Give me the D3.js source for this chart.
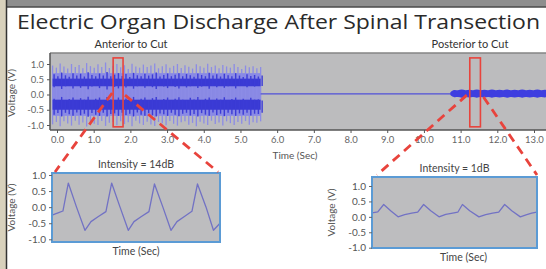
<!DOCTYPE html>
<html>
<head>
<meta charset="utf-8">
<script src="https://cdn.jsdelivr.net/npm/d3@7"></script>
<style>
body { margin: 0; background: #fff; }
svg { display: block; font-family: Lato, "Open Sans", sans-serif; }
</style>
</head>
<body>
<svg width="546" height="269"></svg>
<script>
// ---- data ----
var xTicks = [0, 1, 2, 3, 4, 5, 6, 7, 8, 9, 10, 11, 12, 13];
var yTicks = [-1, -0.5, 0, 0.5, 1];

// anterior burst: one peak per spike (V)
var anteriorSpan = [-0.12, 5.55];
var spikeHi = [0.95, 0.88, 1.02, 0.92, 0.85, 1.0, 0.9, 0.97, 0.86, 1.03, 0.93, 0.88, 0.99, 0.9,
               1.05, 0.87, 0.94, 1.0, 0.89, 0.96, 0.84, 1.01, 0.92, 0.88, 0.98, 0.9, 0.95, 1.02,
               0.86, 0.93, 0.99, 0.88, 0.94, 1.0, 0.87, 0.96, 0.91, 0.85, 0.99, 0.93, 0.88, 1.01,
               0.9, 0.95, 0.86, 0.97, 0.92, 0.88, 1.0, 0.9, 0.84, 0.95, 0.89, 0.93, 0.86, 0.9];
var spikeLo = [-0.98, -0.9, -1.04, -0.88, -0.95, -1.02, -0.86, -0.99, -0.92, -1.05, -0.89, -0.96,
               -1.0, -0.87, -1.03, -0.93, -0.9, -1.01, -0.88, -0.97, -0.91, -1.04, -0.86, -0.95,
               -1.0, -0.89, -0.98, -1.03, -0.9, -0.94, -1.01, -0.87, -0.96, -1.02, -0.91, -0.88,
               -0.99, -0.93, -1.04, -0.89, -0.95, -1.0, -0.86, -0.97, -0.92, -1.02, -0.88, -0.94,
               -1.0, -0.9, -0.96, -0.87, -0.99, -0.91, -0.93, -0.88];
var toothHi = [0.66, 0.6, 0.72, 0.63, 0.58, 0.7, 0.62, 0.68, 0.59, 0.73, 0.64, 0.6, 0.69, 0.62,
               0.74, 0.6, 0.65, 0.7, 0.61, 0.67, 0.57, 0.71, 0.63, 0.6, 0.68, 0.62, 0.66, 0.72,
               0.59, 0.64, 0.69, 0.6, 0.65, 0.7, 0.6, 0.67, 0.63, 0.58, 0.69, 0.64, 0.6, 0.71,
               0.62, 0.66, 0.59, 0.68, 0.63, 0.6, 0.7, 0.62, 0.57, 0.66, 0.61, 0.64, 0.59, 0.62];
var toothLo = [-0.66, -0.61, -0.72, -0.6, -0.65, -0.7, -0.59, -0.68, -0.63, -0.73, -0.61, -0.66,
               -0.7, -0.6, -0.72, -0.64, -0.62, -0.7, -0.6, -0.67, -0.63, -0.72, -0.59, -0.66,
               -0.7, -0.61, -0.68, -0.72, -0.62, -0.65, -0.7, -0.6, -0.66, -0.71, -0.63, -0.6,
               -0.69, -0.64, -0.72, -0.61, -0.66, -0.7, -0.59, -0.67, -0.63, -0.71, -0.6, -0.65,
               -0.7, -0.62, -0.66, -0.6, -0.69, -0.63, -0.64, -0.6];

// quiet stretch after the cut
var flatSpan = [5.55, 10.75];

// posterior low-amplitude burst: alternating crest / gap
var posteriorSpan = [10.72, 13.4];
var beadHi = [0.07, 0.17, 0.12, 0.18, 0.12, 0.17, 0.12, 0.18, 0.12, 0.17, 0.12, 0.18, 0.12, 0.17,
              0.12, 0.18, 0.12, 0.17, 0.12, 0.18, 0.12, 0.17, 0.12, 0.18, 0.12, 0.17, 0.12];
var beadLo = [-0.02, -0.11, -0.07, -0.12, -0.07, -0.11, -0.07, -0.12, -0.07, -0.11, -0.07, -0.12,
              -0.07, -0.11, -0.07, -0.12, -0.07, -0.11, -0.07, -0.12, -0.07, -0.11, -0.07, -0.12,
              -0.07, -0.11, -0.07];

// red boxes on the main trace: [start, end] in seconds
var zoomBoxes = [[1.53, 1.8], [11.25, 11.54]];
var boxV = [-1.06, 1.2];

// insets (time in % of window, voltage in V)
var fastT = [0, 3.6, 6.5, 9.7, 14.6, 19.6, 23.2, 27.4, 32.1, 35.5, 40.5, 45.4, 48.8, 53, 57.7,
             61, 66, 70.8, 74.4, 78.6, 83.3, 86.6, 91.7, 96.1, 98.2, 100];
var fastV = [-0.25, -0.18, -0.12, 0.75, 0.0, -0.72, -0.45, -0.3, -0.14, 0.75, 0.0, -0.72, -0.45,
             -0.3, -0.14, 0.72, 0.0, -0.72, -0.45, -0.3, -0.13, 0.72, 0.0, -0.72, -0.6, -0.5];
var slowT = [0.1, 3.5, 7.1, 11.3, 15.8, 19.8, 24.1, 27.7, 31.3, 35.6, 40.6, 44.7, 48.9, 52, 54.8,
             59.2, 64.8, 68.9, 73.1, 76.8, 80.4, 84.7, 89.9, 93.8, 96.8, 99.8];
var slowV = [0.13, 0.16, 0.4, 0.2, 0.0, 0.07, 0.12, 0.15, 0.4, 0.2, 0.0, 0.08, 0.12, 0.15, 0.4,
             0.2, 0.0, 0.07, 0.12, 0.15, 0.4, 0.2, 0.0, 0.07, 0.12, 0.15];

// ---- drawing ----
var svg = d3.select("svg");
var fmt = function(d) { return d.toFixed(1); };

// photo edges
svg.append("rect").attr("width", 546).attr("height", 269).attr("fill", "#fff");
svg.append("rect").attr("width", 546).attr("height", 7).attr("fill", "#8e8e8e");
svg.append("line").attr("x1", 0).attr("x2", 546).attr("y1", 7).attr("y2", 7)
   .attr("stroke", "#4a4a4a").attr("stroke-width", 1.5);
svg.append("rect").attr("width", 6).attr("height", 269).attr("fill", "#d8d1bc");
svg.append("line").attr("x1", 6.5).attr("x2", 6.5).attr("y1", 0).attr("y2", 269)
   .attr("stroke", "#333").attr("stroke-width", 1.5);

svg.append("text")
   .attr("x", 17).attr("y", 29)
   .attr("textLength", 523).attr("lengthAdjust", "spacingAndGlyphs")
   .style("font-size", "20.5px").style("font-family", "'Open Sans', Lato, sans-serif")
   .style("fill", "#2a2a2a")
   .text("Electric Organ Discharge After Spinal Transection");

svg.append("text").attr("x", 131).attr("y", 48).attr("text-anchor", "middle")
   .style("font-size", "11px").style("fill", "#333").text("Anterior to Cut");
svg.append("text").attr("x", 470).attr("y", 48).attr("text-anchor", "middle")
   .style("font-size", "11px").style("fill", "#333").text("Posterior to Cut");

// main trace
var plot = {left: 50, right: 546, top: 53, bottom: 130};
var x = d3.scaleLinear().domain([0, 13]).range([57, 534]);
var y = d3.scaleLinear().domain([-1, 1]).range([125, 64]);

var main = svg.append("g").attr("class", "main");
main.append("rect")
   .attr("x", plot.left).attr("y", plot.top)
   .attr("width", plot.right - plot.left).attr("height", plot.bottom - plot.top)
   .attr("fill", "#bcbcbe");
main.append("line").attr("x1", plot.left).attr("x2", plot.right)
   .attr("y1", plot.top).attr("y2", plot.top)
   .attr("stroke", "#858585").attr("stroke-width", 1.5);

var si = d3.scaleLinear().domain([0, spikeHi.length - 1]).range(anteriorSpan);

main.append("rect")
   .attr("x", x(anteriorSpan[0])).attr("y", y(0.7))
   .attr("width", x(anteriorSpan[1]) - x(anteriorSpan[0])).attr("height", y(-0.7) - y(0.7))
   .attr("fill", "#8989e4");

main.append("g").selectAll("line")
   .data(spikeHi)
   .enter().append("line")
   .attr("x1", function(d, i) { return x(si(i)); })
   .attr("x2", function(d, i) { return x(si(i)); })
   .attr("y1", function(d) { return y(d); })
   .attr("y2", function(d, i) { return y(spikeLo[i]); })
   .attr("stroke", "#8c8ce6").attr("stroke-width", 1.3);

[[0.52, 0.27], [-0.17, -0.5]].forEach(function(b) {
   main.append("rect")
      .attr("x", x(anteriorSpan[0])).attr("y", y(b[0]))
      .attr("width", x(anteriorSpan[1]) - x(anteriorSpan[0])).attr("height", y(b[1]) - y(b[0]))
      .attr("fill", "#3a3ad4");
});

main.append("g").selectAll("line")
   .data(toothHi)
   .enter().append("line")
   .attr("x1", function(d, i) { return x(si(i)) + 1.5; })
   .attr("x2", function(d, i) { return x(si(i)) + 1.5; })
   .attr("y1", function(d) { return y(d); })
   .attr("y2", function(d, i) { return y(0.3 - (d - 0.6)); })
   .attr("stroke", "#3c3cd6").attr("stroke-width", 1.4);
main.append("g").selectAll("line")
   .data(toothLo)
   .enter().append("line")
   .attr("x1", function(d, i) { return x(si(i)) + 1.5; })
   .attr("x2", function(d, i) { return x(si(i)) + 1.5; })
   .attr("y1", function(d) { return y(d); })
   .attr("y2", function(d) { return y(-0.2 - (d + 0.6)); })
   .attr("stroke", "#3c3cd6").attr("stroke-width", 1.4);

main.append("line")
   .attr("x1", x(flatSpan[0])).attr("x2", x(flatSpan[1]))
   .attr("y1", y(0.02)).attr("y2", y(0.02))
   .attr("stroke", "#5050d8").attr("stroke-width", 1.1);

var bi = d3.scaleLinear().domain([0, beadHi.length - 1]).range(posteriorSpan);
main.append("path")
   .datum(beadHi)
   .attr("d", d3.area()
      .curve(d3.curveBasis)
      .x(function(d, i) { return x(bi(i)); })
      .y0(function(d, i) { return y(beadLo[i]); })
      .y1(function(d) { return y(d); }))
   .attr("fill", "#3e3ee0");

// axes
var xAxis = main.append("g").attr("transform", "translate(0," + plot.bottom + ")")
   .call(d3.axisBottom(x).tickValues(xTicks).tickSize(3).tickFormat(fmt));
var yAxis = main.append("g").attr("transform", "translate(" + plot.left + ",0)")
   .call(d3.axisLeft(y).tickValues(yTicks).tickSize(3).tickFormat(fmt));
[xAxis, yAxis].forEach(function(a) {
   a.select(".domain").remove();
   a.selectAll("line").attr("stroke", "#555");
   a.selectAll("text").style("font-size", "9.5px").style("fill", "#666")
      .style("font-family", "Lato, sans-serif");
});
main.append("line").attr("x1", plot.left).attr("x2", plot.right)
   .attr("y1", plot.bottom).attr("y2", plot.bottom).attr("stroke", "#555").attr("stroke-width", 1.5);
main.append("line").attr("x1", plot.left).attr("x2", plot.left)
   .attr("y1", plot.top).attr("y2", plot.bottom).attr("stroke", "#555").attr("stroke-width", 1.5);

main.append("text").attr("x", 295).attr("y", 159).attr("text-anchor", "middle")
   .style("font-size", "10px").style("fill", "#555").text("Time (Sec)");
main.append("text").attr("transform", "translate(15,93) rotate(-90)").attr("text-anchor", "middle")
   .style("font-size", "10px").style("fill", "#555").text("Voltage (V)");

// red boxes
main.selectAll("rect.zoom")
   .data(zoomBoxes)
   .enter().append("rect")
   .attr("class", "zoom")
   .attr("x", function(d) { return x(d[0]); })
   .attr("y", y(boxV[1]))
   .attr("width", function(d) { return x(d[1]) - x(d[0]); })
   .attr("height", y(boxV[0]) - y(boxV[1]))
   .attr("fill", "none").attr("stroke", "#e8433c").attr("stroke-width", 1.6);

// insets
function inset(box, yr, tt, vv, title) {
   var g = svg.append("g");
   var ix = d3.scaleLinear().domain([0, 100]).range([box.left, box.right]);
   var iy = d3.scaleLinear().domain([-1, 1]).range(yr);
   g.append("rect")
      .attr("x", box.left).attr("y", box.top)
      .attr("width", box.right - box.left).attr("height", box.bottom - box.top)
      .attr("fill", "#bdbdbf");
   g.append("path")
      .datum(tt)
      .attr("d", d3.line()
         .x(function(d) { return ix(d); })
         .y(function(d, i) { return iy(vv[i]); }))
      .attr("fill", "none").attr("stroke", "#7272c4").attr("stroke-width", 1.3)
      .attr("stroke-linejoin", "round");
   g.append("rect")
      .attr("x", box.left).attr("y", box.top)
      .attr("width", box.right - box.left).attr("height", box.bottom - box.top)
      .attr("fill", "none").attr("stroke", "#5b9bd5").attr("stroke-width", 2);
   var ax = g.append("g").attr("transform", "translate(" + box.left + ",0)")
      .call(d3.axisLeft(iy).tickValues(yTicks).tickSize(3).tickFormat(fmt));
   ax.select(".domain").remove();
   ax.selectAll("line").attr("stroke", "#666");
   ax.selectAll("text").style("font-size", "10px").style("fill", "#555")
      .style("font-family", "Lato, sans-serif");
   var cx = (box.left + box.right) / 2;
   g.append("text").attr("x", cx).attr("y", box.top - 5).attr("text-anchor", "middle")
      .style("font-size", "10.5px").style("fill", "#444").text(title);
   g.append("text").attr("x", cx + box.labelShift).attr("y", box.bottom + 13).attr("text-anchor", "middle")
      .style("font-size", "10.5px").style("fill", "#444").text("Time (Sec)");
   g.append("text")
      .attr("transform", "translate(" + (box.left - 37) + "," + ((box.top + box.bottom) / 2) + ") rotate(-90)")
      .attr("text-anchor", "middle")
      .style("font-size", "10px").style("fill", "#555").text("Voltage (V)");
   return box;
}

var fastBox = inset({left: 52, right: 220, top: 173, bottom: 242, labelShift: 0}, [239.3, 175],
   fastT, fastV, "Intensity = 14dB");
var slowBox = inset({left: 372, right: 537, top: 177, bottom: 248, labelShift: 9}, [247.7, 186],
   slowT, slowV, "Intensity = 1dB");

// dashed connectors from the red boxes to the insets
var links = [
   [[x(zoomBoxes[0][0]) - 1, y(0.05)], [fastBox.left + 3, fastBox.top - 1]],
   [[x(zoomBoxes[0][1]) + 2, y(-0.02)], [fastBox.right - 2, fastBox.top - 1]],
   [[x(zoomBoxes[1][0]) - 3, y(-0.02)], [slowBox.left + 5, slowBox.top - 2]],
   [[x(zoomBoxes[1][1]) + 3, y(-0.08)], [slowBox.right, slowBox.top - 2]]
];
svg.append("g").selectAll("path")
   .data(links)
   .enter().append("path")
   .attr("d", d3.line())
   .attr("fill", "none").attr("stroke", "#e8433c").attr("stroke-width", 2.8)
   .attr("stroke-dasharray", "9,6");
</script>
</body>
</html>
